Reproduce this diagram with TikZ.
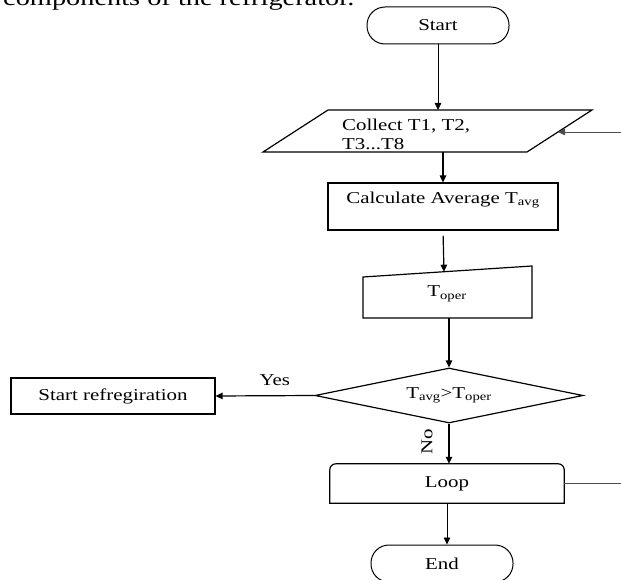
\documentclass[tikz,border=0pt]{standalone}
\usepackage{fontspec}
\setmainfont{Liberation Serif}[FakeStretch=1.26]
\usetikzlibrary{arrows.meta,shapes.geometric}

\begin{document}
\begin{tikzpicture}[x=1pt, y=-1pt, >={Triangle[length=7pt,width=6.5pt]},
  font=\fontsize{16.6}{18}\selectfont,
  term/.style={draw, line width=1pt, rounded corners=18pt, minimum width=142pt, minimum height=37pt},
  box/.style={draw, line width=1.2pt},
  flow/.style={->, line width=1.2pt},
  feed/.style={line width=0.8pt, black!70}]
  \useasboundingbox (0,0) rectangle (621,580);
  \clip (0,0) rectangle (621,580);

  % caption line of the page, cut at the top
  \node[anchor=base west, inner sep=0pt, font=\fontsize{22.5}{26}\selectfont] (caption) at (3,6) {components of the refrigerator.};

  \node[term] (start) at (438,25.5) {Start};

  % input of the eight temperatures
  \draw[box] (263,152) -- (328,110) -- (592,110) -- (527,152) -- cycle;
  \node[anchor=north west, align=left, inner sep=0pt, font=\fontsize{16.6}{19}\selectfont] (collect) at (342,119) {Collect T1, T2,\\T3...T8};
  \coordinate (colN) at (438,110);
  \coordinate (colS) at (443,152);
  \coordinate (colE) at (558,132);
  \coordinate (feedIn) at (621,132);

  \node[box, minimum width=230pt, minimum height=47pt, align=center] (calc) at (443,206.5) {Calculate Average T\textsubscript{avg}\\ \mbox{}};

  % manual input
  \draw[box] (363,277) -- (532,266) -- (532,318) -- (363,318) -- cycle;
  \node (oper) at (447,294) {T\textsubscript{oper}};
  \coordinate (operN) at (444,271.7);
  \coordinate (operS) at (449,318);

  \node[box, diamond, aspect=4.87, minimum width=268pt, minimum height=55pt, inner sep=0pt] (cond) at (449,395.5) {T\textsubscript{avg}>T\textsubscript{oper}};
  \node[box, minimum width=204pt, minimum height=36pt] (refr) at (113,396) {Start refregiration};

  \node[minimum width=234pt, minimum height=39pt] (loop) at (447,483.5) {Loop};
  \draw[box] (loop.south west) -- ([yshift=-6pt]loop.north west) arc[start angle=180, end angle=90, radius=6pt]
    -- ([xshift=-6pt]loop.north east) arc[start angle=90, end angle=0, radius=6pt] -- (loop.south east) -- cycle;
  \coordinate (loopOut) at (621,483.5);

  \node[term] (end) at (442,563.5) {End};

  \draw[flow, line width=0.8pt] (start.south) -- (colN);
  \draw[flow] (colS) -- (calc.north);
  \draw[flow, shorten <=5pt] (calc.south) -- (operN);
  \draw[flow] (operS) -- (cond.north);
  \draw[flow] (cond.west) -- node[above=6pt, pos=0.4] (yes) {Yes} (refr.east);
  \draw[flow] (cond.south) -- (cond.south |- loop.north);
  \node[rotate=90] (no) at (427,442) {No};
  \draw[flow, line width=0.8pt] (loop.south) -- (loop.south |- end.north);
  \draw[feed] (loop.east) -- (loopOut);
  \draw[feed, ->] (feedIn) -- (colE);
\end{tikzpicture}
\end{document}
